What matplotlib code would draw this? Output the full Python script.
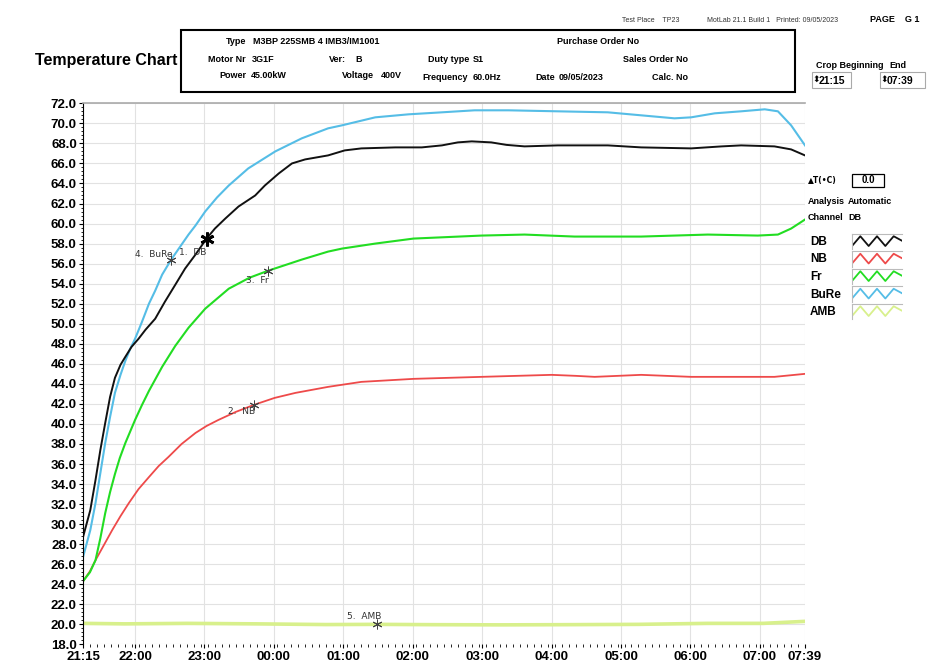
import matplotlib
matplotlib.use("Agg")
import matplotlib.pyplot as plt
import numpy as np
from matplotlib.patches import Rectangle

plt.rcParams['font.family'] = ['Liberation Sans', 'DejaVu Sans']

# hours since 21:15
t_db = [0.0, 0.105, 0.18, 0.25, 0.32, 0.39, 0.46, 0.54, 0.61, 0.7, 0.8, 0.9, 1.04, 1.18,
        1.33, 1.47, 1.62, 1.78, 1.9, 2.05, 2.24, 2.48, 2.62, 2.82, 3.01, 3.2, 3.53, 3.77,
        4.01, 4.5, 4.88, 5.17, 5.4, 5.6, 5.88, 6.1, 6.36, 6.84, 7.56, 8.04, 8.76, 9.2,
        9.48, 9.96, 10.2, 10.4]
db = [28.7, 31.4, 34.4, 37.4, 40.1, 42.7, 44.6, 45.9, 46.7, 47.7, 48.5, 49.4, 50.5, 52.2,
      53.9, 55.5, 56.9, 58.5, 59.5, 60.5, 61.7, 62.8, 63.8, 65.0, 66.0, 66.4, 66.8, 67.3,
      67.5, 67.6, 67.6, 67.8, 68.1, 68.2, 68.1, 67.85, 67.7, 67.8, 67.8, 67.6, 67.5, 67.7,
      67.8, 67.7, 67.4, 66.8]

t_bure = [0.0, 0.105, 0.18, 0.25, 0.32, 0.39, 0.46, 0.54, 0.61, 0.68, 0.75, 0.85, 0.95,
          1.04, 1.14, 1.27, 1.42, 1.52, 1.62, 1.76, 1.93, 2.1, 2.38, 2.77, 3.15, 3.53,
          3.73, 4.21, 4.69, 5.17, 5.64, 6.13, 6.84, 7.56, 8.04, 8.52, 8.76, 9.1, 9.48,
          9.82, 10.01, 10.2, 10.4]
bure = [26.7, 29.4, 32.1, 35.1, 38.1, 40.7, 43.1, 44.9, 46.3, 47.5, 48.5, 50.2, 52.0,
        53.3, 54.9, 56.4, 57.9, 58.9, 59.8, 61.2, 62.6, 63.8, 65.5, 67.2, 68.5, 69.5,
        69.8, 70.6, 70.9, 71.1, 71.3, 71.3, 71.2, 71.1, 70.8, 70.5, 70.6, 71.0, 71.2,
        71.4, 71.2, 69.8, 67.8]

t_fr = [0.0, 0.1, 0.18, 0.25, 0.32, 0.39, 0.46, 0.53, 0.61, 0.75, 0.85, 0.95, 1.14, 1.33,
        1.52, 1.76, 2.1, 2.4, 2.67, 3.15, 3.53, 3.73, 4.21, 4.76, 5.74, 6.36, 7.08, 8.04,
        9.0, 9.72, 10.01, 10.2, 10.4]
fr = [24.3, 25.2, 26.4, 28.6, 31.1, 33.2, 35.0, 36.6, 38.1, 40.4, 41.9, 43.3, 45.7, 47.8,
      49.6, 51.5, 53.5, 54.6, 55.3, 56.4, 57.2, 57.5, 58.0, 58.5, 58.8, 58.9, 58.7, 58.7,
      58.9, 58.8, 58.9, 59.5, 60.4]

t_nb = [0.0, 0.1, 0.18, 0.3, 0.42, 0.54, 0.66, 0.8, 0.95, 1.09, 1.23, 1.42, 1.62, 1.78,
        1.95, 2.2, 2.46, 2.76, 3.06, 3.53, 4.01, 4.76, 5.74, 6.75, 7.1, 7.37, 8.04, 8.76,
        9.96, 10.4]
nb = [24.3, 25.3, 26.4, 27.9, 29.4, 30.8, 32.1, 33.5, 34.7, 35.8, 36.7, 38.0, 39.1, 39.8,
      40.4, 41.2, 41.9, 42.6, 43.1, 43.7, 44.2, 44.5, 44.7, 44.9, 44.8, 44.7, 44.9, 44.7,
      44.7, 45.0]

t_amb = [0.0, 0.6, 1.5, 2.5, 3.5, 4.24, 5.0, 6.0, 7.0, 8.0, 9.0, 9.8, 10.4]
amb = [20.1, 20.05, 20.1, 20.05, 19.98, 20.0, 19.97, 19.95, 19.97, 20.0, 20.1, 20.1, 20.3]

# cursor readouts: (time, value, label)
cursors = [(1.78, 58.5, '1.  DB'), (2.46, 41.9, '2.  NB'), (2.67, 55.3, '3.  Fr'),
           (1.27, 56.4, '4.  BuRe'), (4.24, 20.0, '5.  AMB')]
# label offsets (hours, degC) from each cursor
label_off = [(0.0, -1.4), (0.02, -0.7), (0.0, -1.0), (0.02, 0.5), (0.06, 0.8)]

tick_hours = [0.0, 0.75, 1.75, 2.75, 3.75, 4.75, 5.75, 6.75, 7.75, 8.75, 9.75, 10.4]
tick_labels = ['21:15', '22:00', '23:00', '00:00', '01:00', '02:00', '03:00', '04:00',
               '05:00', '06:00', '07:00', '07:39']

names = ['DB', 'NB', 'Fr', 'BuRe', 'AMB']
colors = ['#111111', '#ee4a4a', '#22dd22', '#55bde6', '#d8f08c']

fig = plt.figure(figsize=(9.33, 6.64), dpi=100)
W, H = 933.0, 664.0

def fx(px):
    return px / W

def fy(py):
    return 1 - py / H

ax = fig.add_axes([fx(83), fy(644.4), fx(805) - fx(83), fy(103.3) - fy(644.4)])
ax.plot(t_amb, amb, color=colors[4], lw=2.6, solid_capstyle='round')
ax.plot(t_nb, nb, color=colors[1], lw=1.3)
ax.plot(t_fr, fr, color=colors[2], lw=1.5)
ax.plot(t_bure, bure, color=colors[3], lw=1.5)
ax.plot(t_db, db, color=colors[0], lw=1.4)

for i, (tc, vc, lab) in enumerate(cursors):
    big = i == 0
    ax.plot(tc, vc, marker=(6, 2, 0), ms=10 if big else 7, mew=2.0 if big else 0.7,
            color='black' if big else '#444444', zorder=5)
    dx, dy = label_off[i]
    ax.text(tc + dx, vc + dy, lab, fontsize=6.5, ha='right', va='center',
            color='#333333', family=['DejaVu Sans'])

ax.set_xlim(0, 10.4)
ax.set_ylim(18, 72)
yt = np.arange(18, 72.1, 2)
ax.set_yticks(yt)
ax.set_yticklabels(['%.1f' % v for v in yt], fontsize=9.5, fontweight='bold')
ax.set_yticks(np.arange(18, 72.01, 0.4), minor=True)
ax.set_xticks(tick_hours)
ax.set_xticklabels(tick_labels, fontsize=9.5, fontweight='bold')
ax.set_xticks(np.arange(0, 10.41, 0.1), minor=True)
ax.tick_params(which='major', length=3, width=0.8, pad=1.5)
ax.tick_params(which='minor', length=1.8, width=0.6)
ax.grid(True, which='major', color='#e2e2e2', lw=0.8)
ax.set_axisbelow(True)
ax.spines['right'].set_visible(False)
ax.spines['bottom'].set_visible(False)
ax.spines['top'].set_color('#aaaaaa')
ax.spines['top'].set_linewidth(1.2)
ax.spines['left'].set_linewidth(0.8)

# header block
fig.text(fx(35), fy(61), 'Temperature Chart', fontsize=11.5, fontweight='bold', va='center')
fig.add_artist(Rectangle((fx(181), fy(92)), fx(795) - fx(181), fy(30) - fy(92),
                         fill=False, lw=1.5, ec='black', transform=fig.transFigure))

hdr = dict(fontsize=6.5, fontweight='bold', va='center')
fig.text(fx(246), fy(41), 'Type', ha='right', **hdr)
fig.text(fx(253), fy(41), 'M3BP 225SMB 4 IMB3/IM1001', **hdr)
fig.text(fx(557), fy(41), 'Purchase Order No', **hdr)
fig.text(fx(246), fy(59), 'Motor Nr', ha='right', **hdr)
fig.text(fx(252), fy(59), '3G1F', **hdr)
fig.text(fx(346), fy(59), 'Ver:', ha='right', **hdr)
fig.text(fx(355), fy(59), 'B', **hdr)
fig.text(fx(428), fy(60), 'Duty type', **hdr)
fig.text(fx(473), fy(60), 'S1', **hdr)
fig.text(fx(688), fy(59), 'Sales Order No', ha='right', **hdr)
fig.text(fx(246), fy(76), 'Power', ha='right', **hdr)
fig.text(fx(251), fy(76), '45.00kW', **hdr)
fig.text(fx(374), fy(76), 'Voltage', ha='right', **hdr)
fig.text(fx(381), fy(76), '400V', **hdr)
fig.text(fx(422), fy(77), 'Frequency', **hdr)
fig.text(fx(473), fy(77), '60.0Hz', **hdr)
fig.text(fx(535), fy(77), 'Date', **hdr)
fig.text(fx(559), fy(77), '09/05/2023', **hdr)
fig.text(fx(688), fy(77), 'Calc. No', ha='right', **hdr)

small = dict(fontsize=5, va='center', color='#333333')
fig.text(fx(622), fy(20), 'Test Place    TP23', **small)
fig.text(fx(707), fy(20), 'MotLab 21.1 Build 1   Printed: 09/05/2023', **small)
fig.text(fx(870), fy(20), 'PAGE    G 1', fontsize=6.5, fontweight='bold', va='center')

fig.text(fx(816), fy(66), 'Crop Beginning', **hdr)
fig.text(fx(889), fy(66), 'End', **hdr)
for x0, x1, lab in [(812, 851, '21:15'), (880, 925, '07:39')]:
    fig.add_artist(Rectangle((fx(x0), fy(88)), fx(x1) - fx(x0), fy(72) - fy(88),
                             fill=False, lw=0.8, ec='#aaaaaa', transform=fig.transFigure))
    fig.text(fx(x0 + 0.5), fy(80.5), '\u2b0d', fontsize=6.5, va='center',
             family=['DejaVu Sans'])
    fig.text(fx(x0 + 7), fy(80.5), lab, fontsize=7.5, fontweight='bold', va='center')

# channel panel
fig.text(fx(808), fy(180), '\u25b2T(\u2022C)', fontsize=5.5, fontweight='bold',
         va='center', family=['DejaVu Sans'])
fig.add_artist(Rectangle((fx(852), fy(187)), fx(884) - fx(852), fy(174) - fy(187),
                         fill=False, lw=0.9, ec='black', transform=fig.transFigure))
fig.text(fx(868), fy(180.5), '0.0', fontsize=7, fontweight='bold', ha='center', va='center')
fig.text(fx(808), fy(201), 'Analysis', **hdr)
fig.text(fx(848), fy(201), 'Automatic', **hdr)
fig.text(fx(808), fy(218), 'Channel', **hdr)
fig.text(fx(848), fy(218), 'DB', **hdr)

zig_x = np.linspace(0, 1, 7)
zig_y = [0.2, 0.85, 0.2, 0.85, 0.2, 0.85, 0.55]
for i, (nm, col) in enumerate(zip(names, colors)):
    yc = 242 + i * 17.5
    fig.text(fx(810), fy(yc), nm, fontsize=8.5, fontweight='bold', va='center')
    lax = fig.add_axes([fx(852), fy(yc + 7), fx(902) - fx(852), fy(yc - 8) - fy(yc + 7)])
    lax.plot(zig_x, zig_y, color=col, lw=1.3)
    lax.set_xlim(0, 1)
    lax.set_ylim(0, 1)
    lax.set_xticks([])
    lax.set_yticks([])
    for s in lax.spines.values():
        s.set_visible(False)
    for s in ['left', 'top']:
        lax.spines[s].set_visible(True)
        lax.spines[s].set_color('#bbbbbb')

fig.savefig('out.png', dpi=100)
